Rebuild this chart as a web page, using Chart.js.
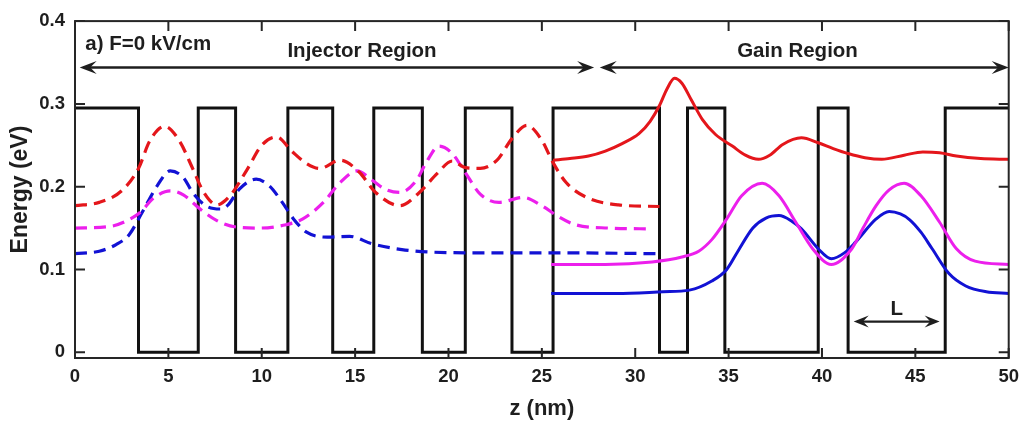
<!DOCTYPE html>
<html>
<head>
<meta charset="utf-8">
<script src="https://cdn.jsdelivr.net/npm/chart.js@4.4.1/dist/chart.umd.min.js"></script>
<style>
  html, body { margin: 0; padding: 0; background: #fff; }
  #wrap { width: 1027px; height: 424px; }
</style>
</head>
<body>
<div id="wrap"><canvas id="c" width="1027" height="424"></canvas></div>
<script>
// Axis ticks
const xTicks = [0, 5, 10, 15, 20, 25, 30, 35, 40, 45, 50];
const yTicks = [0, 0.1, 0.2, 0.3, 0.4];

// Conduction band profile: each edge position (nm) and the level that starts there (eV)
const bandEdges  = [0, 3.4, 6.6, 8.6, 11.4, 13.8, 16.0, 18.6, 20.9, 23.4, 25.6, 31.3, 32.8, 34.8, 39.8, 41.4, 46.6, 50];
const bandLevels = [0.295, 0, 0.295, 0, 0.295, 0, 0.295, 0, 0.295, 0, 0.295, 0, 0.295, 0, 0.295, 0, 0.295, 0.295];

// Injector states (dashed)
const injRedZ = [0, 1.3, 2.5, 3.4, 4.0, 4.8, 5.6, 6.3, 6.9, 7.6, 8.3, 9.2, 10.0, 10.8, 11.6, 12.4, 13.1, 14.2, 15.2, 16.1, 17.4, 18.4, 19.4, 20.2, 20.9, 21.7, 22.6, 23.4, 24.2, 25.0, 25.6, 26.3, 27.4, 29.1, 31.3];
const injRedE = [0.177, 0.181, 0.195, 0.222, 0.255, 0.273, 0.255, 0.222, 0.193, 0.178, 0.189, 0.220, 0.250, 0.260, 0.243, 0.228, 0.222, 0.232, 0.218, 0.193, 0.177, 0.192, 0.216, 0.231, 0.223, 0.222, 0.232, 0.258, 0.274, 0.256, 0.229, 0.205, 0.187, 0.178, 0.176];

const injMagZ = [0, 1.9, 2.8, 3.5, 4.2, 5.1, 5.8, 6.7, 7.6, 8.7, 9.9, 11.3, 12.2, 13.3, 14.2, 15.1, 15.9, 16.6, 17.4, 18.3, 18.8, 19.5, 20.2, 20.9, 21.7, 22.7, 24.0, 25.0, 25.8, 26.8, 28.6, 30.9];
const injMagE = [0.150, 0.152, 0.159, 0.169, 0.186, 0.195, 0.190, 0.173, 0.159, 0.151, 0.150, 0.154, 0.161, 0.181, 0.205, 0.219, 0.208, 0.197, 0.193, 0.208, 0.229, 0.249, 0.240, 0.217, 0.191, 0.181, 0.187, 0.177, 0.165, 0.154, 0.150, 0.149];

const injBlueZ = [0, 1.3, 2.2, 2.9, 3.6, 4.4, 5.1, 5.8, 6.3, 7.0, 7.8, 8.2, 8.8, 9.7, 10.4, 11.1, 11.7, 12.4, 13.5, 14.7, 15.9, 17.5, 19.0, 22.0, 26.0, 31.3];
const injBlueE = [0.119, 0.122, 0.130, 0.142, 0.169, 0.201, 0.219, 0.211, 0.193, 0.177, 0.173, 0.178, 0.197, 0.209, 0.201, 0.181, 0.161, 0.145, 0.139, 0.140, 0.131, 0.124, 0.121, 0.120, 0.120, 0.119];

// Gain region states (solid)
const gainRedZ = [25.6, 26.5, 27.5, 28.4, 29.3, 30.2, 30.8, 31.3, 31.7, 32.1, 32.5, 33.0, 33.6, 34.3, 35.2, 35.9, 36.6, 37.2, 37.9, 38.9, 39.8, 40.6, 41.4, 42.3, 43.2, 44.4, 45.4, 46.3, 47.2, 48.5, 50];
const gainRedE = [0.232, 0.234, 0.237, 0.243, 0.252, 0.264, 0.279, 0.298, 0.318, 0.331, 0.325, 0.305, 0.281, 0.263, 0.249, 0.238, 0.233, 0.238, 0.251, 0.259, 0.253, 0.246, 0.240, 0.235, 0.233, 0.238, 0.242, 0.241, 0.237, 0.234, 0.233];

const gainMagZ = [25.5, 28.4, 30.9, 32.5, 33.4, 34.1, 34.9, 35.7, 36.8, 37.7, 38.6, 39.5, 40.5, 41.6, 42.2, 42.9, 43.6, 44.4, 45.3, 46.3, 47.2, 48.2, 50];
const gainMagE = [0.106, 0.106, 0.109, 0.115, 0.122, 0.136, 0.161, 0.189, 0.204, 0.189, 0.157, 0.125, 0.106, 0.125, 0.150, 0.177, 0.196, 0.204, 0.189, 0.157, 0.125, 0.110, 0.106];

const gainBlueZ = [25.5, 29.0, 31.5, 32.9, 34.1, 34.9, 35.5, 36.3, 37.0, 37.7, 38.4, 38.9, 39.8, 40.5, 41.2, 41.8, 42.9, 43.6, 44.2, 44.7, 45.3, 45.9, 46.8, 47.7, 48.8, 50];
const gainBlueE = [0.071, 0.071, 0.073, 0.075, 0.086, 0.100, 0.122, 0.150, 0.162, 0.165, 0.158, 0.149, 0.125, 0.113, 0.120, 0.133, 0.161, 0.170, 0.167, 0.160, 0.145, 0.125, 0.095, 0.080, 0.073, 0.071];

const RED = '#e4161b', MAG = '#ec1fec', BLUE = '#1212d4', INK = '#1e1e1e';
const FONT = '"Liberation Sans", Arial, Helvetica, sans-serif';

const pts = (zs, es) => zs.map((z, i) => ({ x: z, y: es[i] }));

function curve(zs, es, color, dashed) {
  return {
    data: pts(zs, es),
    borderColor: color,
    borderWidth: dashed ? 3.2 : 3,
    borderDash: dashed ? [12, 7] : [],
    pointRadius: 0,
    cubicInterpolationMode: 'monotone',
    fill: false,
    order: 0
  };
}

function arrowHead(ctx, x, y, dir, len, half) {
  ctx.beginPath();
  ctx.moveTo(x, y);
  ctx.lineTo(x - dir * len, y - half);
  ctx.lineTo(x - dir * len * 0.62, y);
  ctx.lineTo(x - dir * len, y + half);
  ctx.closePath();
  ctx.fill();
}

function doubleArrow(ctx, x1, x2, y, len, half) {
  ctx.beginPath();
  ctx.moveTo(x1 + 4, y);
  ctx.lineTo(x2 - 4, y);
  ctx.stroke();
  arrowHead(ctx, x1, y, -1, len, half);
  arrowHead(ctx, x2, y, 1, len, half);
}

const frame = {
  id: 'frame',
  afterDatasetsDraw(chart) {
    const { ctx, chartArea: a, scales: { x, y } } = chart;
    ctx.save();
    ctx.strokeStyle = '#262626';
    ctx.lineWidth = 2;
    ctx.strokeRect(a.left, a.top, a.right - a.left, a.bottom - a.top);
    ctx.beginPath();
    xTicks.forEach(v => {
      const px = x.getPixelForValue(v);
      ctx.moveTo(px, a.bottom); ctx.lineTo(px, a.bottom - 10);
      ctx.moveTo(px, a.top); ctx.lineTo(px, a.top + 10);
    });
    yTicks.forEach(v => {
      const py = y.getPixelForValue(v);
      ctx.moveTo(a.left, py); ctx.lineTo(a.left + 10, py);
      ctx.moveTo(a.right, py); ctx.lineTo(a.right - 10, py);
    });
    ctx.stroke();

    // Region annotations
    ctx.fillStyle = INK;
    ctx.strokeStyle = INK;
    ctx.lineWidth = 2.4;
    const yArrow = y.getPixelForValue(0.344);
    doubleArrow(ctx, x.getPixelForValue(0.25), x.getPixelForValue(27.8), yArrow, 17, 6.5);
    doubleArrow(ctx, x.getPixelForValue(28.1), x.getPixelForValue(50), yArrow, 17, 6.5);
    doubleArrow(ctx, x.getPixelForValue(41.7), x.getPixelForValue(46.3), y.getPixelForValue(0.037), 15, 6);

    ctx.font = 'bold 20.5px ' + FONT;
    ctx.textBaseline = 'middle';
    ctx.textAlign = 'center';
    ctx.fillText('Injector Region', x.getPixelForValue(15.37), y.getPixelForValue(0.364));
    ctx.fillText('Gain Region', x.getPixelForValue(38.69), y.getPixelForValue(0.364));
    ctx.fillText('L', x.getPixelForValue(44.0), y.getPixelForValue(0.052));
    ctx.textAlign = 'left';
    ctx.fillText('a) F=0 kV/cm', x.getPixelForValue(0.55), y.getPixelForValue(0.372));
    ctx.restore();
  }
};

new Chart(document.getElementById('c'), {
  type: 'line',
  data: {
    datasets: [
      curve(injRedZ, injRedE, RED, true),
      curve(injMagZ, injMagE, MAG, true),
      curve(injBlueZ, injBlueE, BLUE, true),
      curve(gainRedZ, gainRedE, RED, false),
      curve(gainMagZ, gainMagE, MAG, false),
      curve(gainBlueZ, gainBlueE, BLUE, false),
      {
        data: pts(bandEdges, bandLevels),
        borderColor: '#111',
        borderWidth: 3,
        stepped: 'before',
        pointRadius: 0,
        fill: false,
        order: 10
      }
    ]
  },
  options: {
    responsive: false,
    animation: false,
    events: [],
    layout: { padding: { left: 0, right: 17, top: 18, bottom: 0 } },
    plugins: { legend: { display: false }, tooltip: { enabled: false } },
    scales: {
      x: {
        type: 'linear',
        min: 0, max: 50,
        afterBuildTicks: s => { s.ticks = xTicks.map(v => ({ value: v })); },
        afterFit: s => { s.height = 66; },
        grid: { display: false, drawTicks: false },
        border: { display: false },
        ticks: { color: INK, padding: 8, maxRotation: 0, font: { family: FONT, size: 18.5, weight: 'bold' } },
        title: { display: true, text: 'z (nm)', color: INK, padding: { top: 0, bottom: 2 }, font: { family: FONT, size: 22, weight: 'bold' } }
      },
      y: {
        type: 'linear',
        min: -0.007, max: 0.4,
        afterBuildTicks: s => { s.ticks = yTicks.map(v => ({ value: v })); },
        afterFit: s => { s.width = 75; },
        grid: { display: false, drawTicks: false },
        border: { display: false },
        ticks: { color: INK, padding: 10, font: { family: FONT, size: 18.5, weight: 'bold' },
                 callback: v => (v === 0 ? '0' : v.toFixed(1)) },
        title: { display: true, text: 'Energy (eV)', color: INK, padding: { top: 7, bottom: 0 }, font: { family: FONT, size: 23, weight: 'bold' } }
      }
    }
  },
  plugins: [frame]
});
</script>
</body>
</html>
